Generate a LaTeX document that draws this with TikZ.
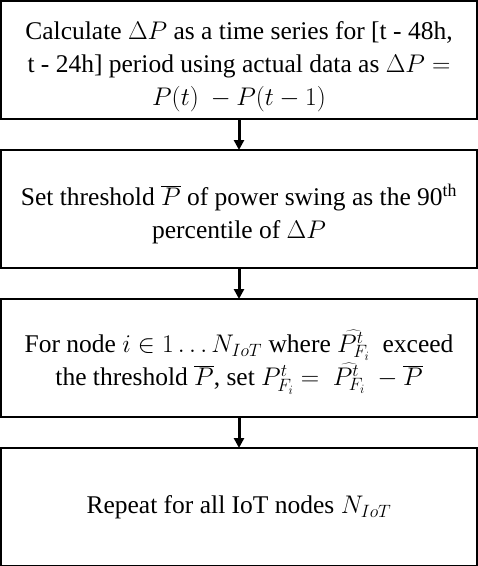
\RequirePackage{fix-cm}
\documentclass[tikz,border=0pt]{standalone}
\usepackage{fontspec}
\setmainfont{Liberation Serif}
\usetikzlibrary{positioning,arrows.meta}

\newcommand{\boxstrut}{\rule{0pt}{31pt}}

\tikzset{
  stepbox/.style={draw, line width=2pt, minimum width=476pt, minimum height=118pt,
    outer sep=0pt, inner ysep=0pt, align=center, font=\fontsize{25.5}{33}\selectfont},
  flowarrow/.style={line width=3pt, -{Triangle[length=10pt,width=10pt]}}
}

\begin{document}
\begin{tikzpicture}
\useasboundingbox (0,0) rectangle (478pt,-566pt);

\node[stepbox] (calc) at (239pt,-60pt)
  {\boxstrut Calculate $\Delta P$ as a time series for [t - 48h,\\
   t - 24h] period using actual data as $\Delta P =$\\
   $P(t)\ -P(t-1)$};
\node[stepbox, below=31pt of calc] (thresh)
  {\boxstrut Set threshold $\overline{P}$ of power swing as the 90\textsuperscript{th}\\
   percentile of $\Delta P$};
\node[stepbox, below=31pt of thresh] (exceed)
  {\boxstrut For node $i\in 1 \ldots N_{IoT}$ where $\widehat{P^t_{F_i}}$ \ exceed\\
   the threshold $\overline{P}$, set $P^t_{F_i} =\ \widehat{P^t_{F_i}}\ -\overline{P}$};
\node[stepbox, below=31pt of exceed] (repeat)
  {Repeat for all IoT nodes $N_{IoT}$};

\draw[flowarrow] (calc) -- (thresh);
\draw[flowarrow] (thresh) -- (exceed);
\draw[flowarrow] (exceed) -- (repeat);
\end{tikzpicture}
\end{document}
